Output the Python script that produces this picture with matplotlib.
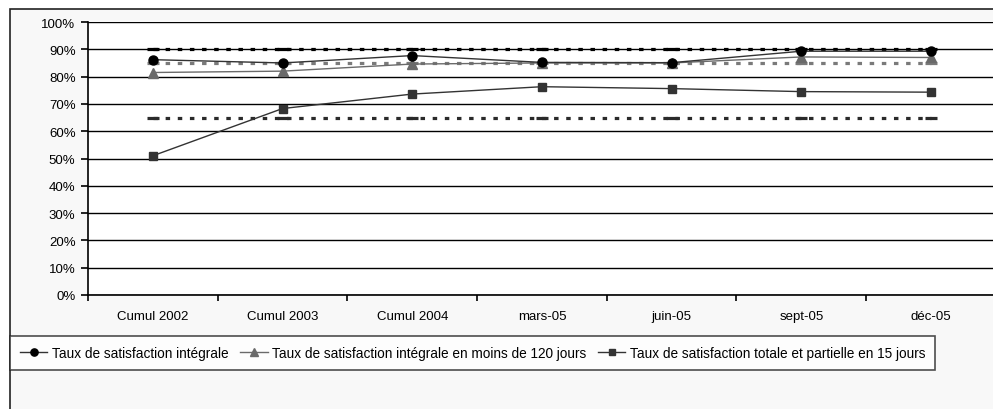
import matplotlib
matplotlib.use("Agg")
from matplotlib import pyplot as plt
from matplotlib.patches import Rectangle
from matplotlib.ticker import FuncFormatter, FixedLocator

plt.rcParams['font.family'] = ['Liberation Sans', 'DejaVu Sans']

categories: list = ['Cumul 2002', 'Cumul 2003', 'Cumul 2004', 'mars-05', 'juin-05', 'sept-05', 'déc-05']

integrale: list = [86.2, 85.0, 87.7, 85.2, 85.1, 89.3, 89.3]
integrale_120j: list = [81.5, 82.0, 84.6, 85.0, 85.0, 87.2, 87.0]
totale_15j: list = [51.0, 68.3, 73.6, 76.3, 75.6, 74.5, 74.3]

objectif_90: list = [90] * 7
objectif_85: list = [85] * 7
objectif_65: list = [65] * 7

W, H = 993, 410
fig = plt.figure(figsize=(W / 100, H / 100), dpi=100)
fig.patch.set_facecolor('white')

# outer chart frame (right and bottom edges cut off in the reference)
frame = Rectangle((10 / W, -0.05), 1.1, (H - 10) / H + 0.05, transform=fig.transFigure,
                  facecolor='#f8f8f8', edgecolor='#222222', linewidth=1.2, zorder=-10)
fig.patches.append(frame)

left, right, top, bottom = 88, 88 + 7 * 129.7, 23, 296
ax = fig.add_axes([left / W, 1 - bottom / H, (right - left) / W, (bottom - top) / H])
ax.set_facecolor('white')

x = list(range(len(categories)))

ref_style = dict(linewidth=2.3, dashes=(1.4, 2.4), marker='_', markersize=8, markeredgewidth=2.3)
ax.plot(x, objectif_90, color='black', zorder=2, **ref_style)
ax.plot(x, objectif_85, color='#7a7a7a', zorder=2, **ref_style)
ax.plot(x, objectif_65, color='#2a2a2a', zorder=2, **ref_style)

l1, = ax.plot(x, integrale, color='#333333', linewidth=1.0, marker='o', markersize=6.5,
              markerfacecolor='black', markeredgecolor='black', label='Taux de satisfaction intégrale', zorder=4)
l2, = ax.plot(x, integrale_120j, color='#6a6a6a', linewidth=1.0, marker='^', markersize=6.5,
              markerfacecolor='#6a6a6a', markeredgecolor='#6a6a6a',
              label='Taux de satisfaction intégrale en moins de 120 jours', zorder=3)
l3, = ax.plot(x, totale_15j, color='#333333', linewidth=1.0, marker='s', markersize=6,
              markerfacecolor='#333333', markeredgecolor='#333333',
              label='Taux de satisfaction totale et partielle en 15 jours', zorder=3)

ax.set_xlim(-0.5, len(categories) - 0.5)
ax.set_ylim(0, 100)
ax.set_yticks(range(0, 101, 10))
ax.yaxis.set_major_formatter(FuncFormatter(lambda v, p: f'{int(v)}%'))
ax.grid(axis='y', color='black', linewidth=1.0, zorder=1)
ax.set_axisbelow(True)

ax.set_xticks(x)
ax.set_xticklabels(categories)
ax.xaxis.set_minor_locator(FixedLocator([i - 0.5 for i in range(len(categories) + 1)]))
ax.tick_params(axis='x', which='major', length=0, pad=11, labelsize=9.5)
ax.tick_params(axis='x', which='minor', length=4, width=1.2, direction='out')
ax.tick_params(axis='y', length=5, width=1.2, direction='out', labelsize=9.5, pad=4)

for s in ['top', 'right']:
    ax.spines[s].set_visible(False)
ax.spines['left'].set_linewidth(1.2)
ax.spines['bottom'].set_linewidth(1.2)

leg = fig.legend(handles=[l1, l2, l3], loc='upper left',
                 bbox_to_anchor=(10 / W, 1 - 337 / H),
                 ncol=3, fontsize=9.8, frameon=True, fancybox=False,
                 handlelength=2.0, handletextpad=0.3, columnspacing=0.9, borderaxespad=0,
                 borderpad=0.75, markerscale=0.8)
leg.get_frame().set_edgecolor('#222222')
leg.get_frame().set_linewidth(1.2)
leg.get_frame().set_facecolor('white')

fig.savefig('out.png', dpi=100, facecolor=fig.get_facecolor())
